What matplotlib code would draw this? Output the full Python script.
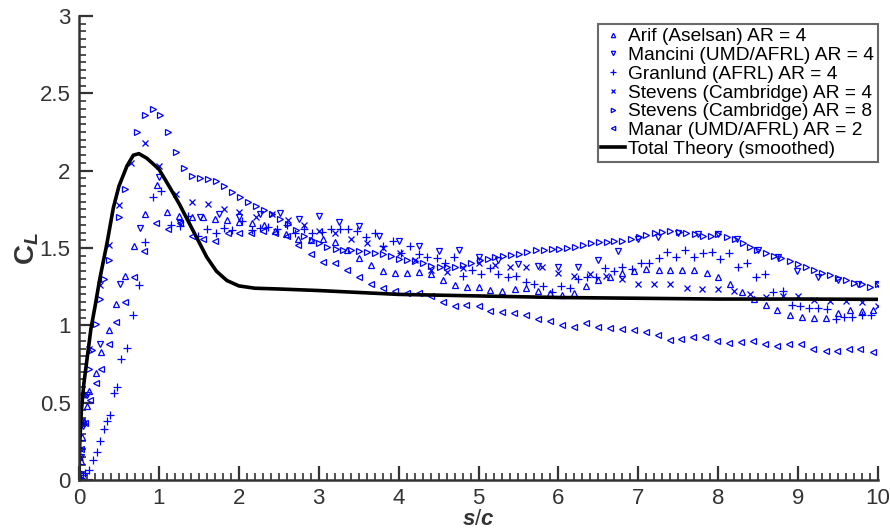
import matplotlib
matplotlib.use("Agg")
import matplotlib.pyplot as plt
from matplotlib.ticker import MultipleLocator

plt.rcParams['font.family'] = ['Liberation Sans', 'DejaVu Sans']
plt.rcParams['mathtext.fontset'] = 'custom'
plt.rcParams['mathtext.rm'] = 'Liberation Sans'
plt.rcParams['mathtext.it'] = 'Liberation Sans:italic:bold'
plt.rcParams['mathtext.bf'] = 'Liberation Sans:bold'

# ---- experimental data (s/c, C_L) ----
arif_x = [0.0, 0.02, 0.04, 0.06, 0.096, 0.12, 0.21, 0.28, 0.38, 0.46, 0.575, 0.69, 0.83, 0.97,
          1.105, 1.25, 1.41, 1.556, 1.70, 1.85, 2.0, 2.16, 2.31, 2.45, 2.59, 2.74, 2.90, 3.05,
          3.20, 3.35, 3.50, 3.65, 3.81, 3.95, 4.10, 4.26, 4.41, 4.55, 4.71, 4.85, 5.01, 5.15,
          5.30, 5.46, 5.60, 5.75, 5.90, 6.05, 6.20, 6.35, 6.50, 6.65, 6.80, 6.95, 7.10, 7.26,
          7.40, 7.55, 7.70, 7.86, 8.0, 8.15, 8.30, 8.45, 8.60, 8.74, 8.90, 9.05, 9.20, 9.35,
          9.50, 9.65, 9.80, 9.94]
arif_y = [0.0, 0.12, 0.28, 0.38, 0.478, 0.577, 0.694, 0.825, 0.97, 1.14, 1.32, 1.51, 1.72, 1.91,
          1.73, 1.71, 1.70, 1.70, 1.685, 1.68, 1.67, 1.66, 1.65, 1.61, 1.59, 1.56, 1.55, 1.556,
          1.54, 1.49, 1.433, 1.39, 1.353, 1.34, 1.34, 1.346, 1.33, 1.29, 1.26, 1.25, 1.246, 1.228,
          1.222, 1.235, 1.24, 1.224, 1.21, 1.196, 1.21, 1.254, 1.29, 1.31, 1.34, 1.353, 1.364, 1.357,
          1.357, 1.36, 1.357, 1.34, 1.314, 1.27, 1.213, 1.17, 1.13, 1.10, 1.067, 1.056, 1.05, 1.05,
          1.08, 1.10, 1.094, 1.10]

mancini_x = [0.0, 0.02, 0.05, 0.10, 0.26, 0.51, 0.76, 1.0, 1.26, 1.51, 1.75, 2.0, 2.26, 2.52,
             2.75, 3.0, 3.25, 3.50, 3.75, 4.0, 4.26, 4.51, 4.76, 5.01, 5.25, 5.50, 5.75, 6.0,
             6.25, 6.5, 6.75, 7.0, 7.25, 7.50, 7.75, 8.0, 8.24, 8.50, 8.75, 8.99, 9.25, 9.50,
             9.75, 10.0]
mancini_y = [0.0, 0.15, 0.35, 0.55, 0.88, 1.27, 1.63, 1.96, 1.66, 1.70, 1.72, 1.70, 1.72, 1.724,
             1.69, 1.71, 1.666, 1.64, 1.577, 1.545, 1.513, 1.48, 1.49, 1.44, 1.42, 1.394, 1.383, 1.38,
             1.38, 1.42, 1.48, 1.56, 1.573, 1.60, 1.59, 1.59, 1.56, 1.487, 1.44, 1.353, 1.31, 1.293,
             1.267, 1.267]

granlund_x = [0.0, 0.02, 0.05, 0.08, 0.12, 0.18, 0.22, 0.26, 0.31, 0.35, 0.39, 0.44, 0.48, 0.53,
              0.60, 0.67, 0.75, 0.83, 0.93, 1.03, 1.15, 1.26, 1.37, 1.49, 1.60, 1.71, 1.81, 1.92,
              2.04, 2.16, 2.27, 2.37, 2.48, 2.60, 2.70, 2.81, 2.92, 3.04, 3.15, 3.27, 3.37, 3.48,
              3.59, 3.70, 3.81, 3.93, 4.03, 4.14, 4.25, 4.36, 4.48, 4.58, 4.69, 4.81, 4.92, 5.03,
              5.14, 5.25, 5.37, 5.47, 5.59, 5.70, 5.81, 5.92, 6.03, 6.15, 6.25, 6.36, 6.47, 6.58,
              6.69, 6.80, 6.92, 7.04, 7.14, 7.26, 7.36, 7.47, 7.58, 7.70, 7.81, 7.92, 8.02, 8.14,
              8.25, 8.36, 8.47, 8.58, 8.69, 8.81, 8.92, 9.03, 9.14, 9.25, 9.36, 9.47, 9.58, 9.68,
              9.80, 9.91]
granlund_y = [0.0, 0.01, 0.03, 0.045, 0.065, 0.13, 0.18, 0.25, 0.33, 0.38, 0.42, 0.56, 0.60, 0.78,
              0.855, 1.07, 1.26, 1.54, 1.83, 1.87, 1.65, 1.64, 1.71, 1.58, 1.62, 1.595, 1.63, 1.616,
              1.676, 1.616, 1.627, 1.633, 1.622, 1.65, 1.60, 1.62, 1.60, 1.605, 1.62, 1.62, 1.62, 1.61,
              1.57, 1.60, 1.513, 1.545, 1.47, 1.515, 1.46, 1.444, 1.437, 1.40, 1.444, 1.32, 1.36, 1.33,
              1.37, 1.33, 1.314, 1.32, 1.28, 1.27, 1.254, 1.217, 1.254, 1.24, 1.30, 1.31, 1.31, 1.37,
              1.353, 1.38, 1.364, 1.405, 1.405, 1.433, 1.476, 1.444, 1.49, 1.44, 1.47, 1.472, 1.427, 1.465,
              1.375, 1.40, 1.314, 1.33, 1.217, 1.222, 1.13, 1.125, 1.11, 1.11, 1.105, 1.04, 1.056, 1.056,
              1.067, 1.067]

stevens4_x = [0.0, 0.01, 0.02, 0.05, 0.13, 0.26, 0.375, 0.50, 0.65, 0.82, 1.0, 1.21, 1.41, 1.61,
              1.81, 2.0, 2.21, 2.41, 2.61, 2.81, 3.01, 3.20, 3.40, 3.60, 3.81, 4.02, 4.21, 4.41,
              4.60, 4.80, 5.01, 5.21, 5.39, 5.60, 5.80, 6.0, 6.2, 6.40, 6.60, 6.80, 7.0, 7.20,
              7.40, 7.61, 7.80, 8.0, 8.20, 8.40, 8.60, 8.81, 9.0, 9.2, 9.40, 9.60, 9.80, 10.0]
stevens4_y = [0.0, 0.15, 0.37, 0.55, 0.85, 1.26, 1.52, 1.78, 2.05, 2.18, 2.03, 1.85, 1.80, 1.785,
              1.755, 1.735, 1.70, 1.72, 1.68, 1.65, 1.61, 1.595, 1.56, 1.535, 1.50, 1.465, 1.42, 1.357,
              1.346, 1.37, 1.40, 1.39, 1.375, 1.38, 1.375, 1.336, 1.32, 1.33, 1.32, 1.297, 1.267, 1.265,
              1.265, 1.24, 1.235, 1.235, 1.22, 1.20, 1.185, 1.19, 1.19, 1.163, 1.16, 1.16, 1.15, 1.125]

stevens8_x = [0.0, 0.01, 0.03, 0.05, 0.08, 0.12, 0.16, 0.21, 0.26, 0.31, 0.375, 0.50, 0.58, 0.73,
              0.83, 0.92, 1.02, 1.12, 1.21, 1.32, 1.42, 1.51, 1.62, 1.71, 1.81, 1.91, 2.01, 2.12,
              2.22, 2.31, 2.41, 2.52, 2.62, 2.72, 2.81, 2.91, 3.01, 3.11, 3.22, 3.31, 3.41, 3.51,
              3.61, 3.71, 3.81, 3.91, 4.01, 4.11, 4.21, 4.31, 4.41, 4.52, 4.61, 4.71, 4.81, 4.91,
              5.02, 5.12, 5.21, 5.31, 5.41, 5.51, 5.61, 5.72, 5.82, 5.92, 6.01, 6.11, 6.21, 6.31,
              6.41, 6.51, 6.61, 6.70, 6.80, 6.91, 7.01, 7.10, 7.21, 7.30, 7.40, 7.51, 7.60, 7.71,
              7.81, 7.91, 8.0, 8.11, 8.21, 8.31, 8.40, 8.49, 8.60, 8.70, 8.79, 8.90, 9.0, 9.10,
              9.20, 9.30, 9.40, 9.50, 9.60, 9.70, 9.80, 9.90, 10.0]
stevens8_y = [0.0, 0.05, 0.2, 0.38, 0.55, 0.72, 0.84, 1.01, 1.17, 1.30, 1.42, 1.70, 1.88, 2.25,
              2.36, 2.40, 2.36, 2.25, 2.12, 2.02, 1.965, 1.95, 1.945, 1.93, 1.90, 1.86, 1.83, 1.795,
              1.77, 1.745, 1.72, 1.685, 1.655, 1.616, 1.58, 1.55, 1.53, 1.506, 1.495, 1.49, 1.49, 1.48,
              1.476, 1.47, 1.46, 1.45, 1.43, 1.425, 1.415, 1.40, 1.385, 1.38, 1.375, 1.38, 1.39, 1.405,
              1.42, 1.43, 1.44, 1.448, 1.455, 1.46, 1.474, 1.487, 1.49, 1.493, 1.495, 1.50, 1.508, 1.52,
              1.53, 1.536, 1.54, 1.545, 1.547, 1.556, 1.573, 1.584, 1.60, 1.605, 1.61, 1.603, 1.60, 1.59,
              1.58, 1.58, 1.59, 1.57, 1.556, 1.53, 1.505, 1.49, 1.465, 1.448, 1.433, 1.418, 1.396, 1.38,
              1.36, 1.34, 1.323, 1.304, 1.29, 1.275, 1.265, 1.25, 1.265]

manar_x = [0.0, 0.03, 0.08, 0.14, 0.21, 0.28, 0.37, 0.46, 0.575, 0.69, 0.81, 0.96, 1.11, 1.26,
           1.41, 1.55, 1.70, 1.87, 2.0, 2.15, 2.30, 2.45, 2.60, 2.74, 2.90, 3.05, 3.20, 3.35,
           3.50, 3.65, 3.80, 3.95, 4.10, 4.26, 4.41, 4.55, 4.70, 4.84, 5.0, 5.14, 5.29, 5.44,
           5.59, 5.75, 5.89, 6.04, 6.2, 6.35, 6.5, 6.65, 6.79, 6.95, 7.10, 7.25, 7.40, 7.54,
           7.69, 7.84, 7.99, 8.14, 8.29, 8.44, 8.59, 8.74, 8.89, 9.04, 9.19, 9.35, 9.49, 9.64,
           9.78, 9.94]
manar_y = [0.0, 0.2, 0.37, 0.52, 0.63, 0.72, 0.88, 1.02, 1.15, 1.31, 1.48, 1.66, 1.62, 1.66,
           1.58, 1.556, 1.547, 1.595, 1.60, 1.60, 1.61, 1.60, 1.58, 1.52, 1.46, 1.41, 1.40, 1.357,
           1.31, 1.267, 1.24, 1.224, 1.212, 1.21, 1.188, 1.15, 1.125, 1.13, 1.125, 1.095, 1.084, 1.077,
           1.067, 1.04, 1.03, 1.0, 0.987, 1.017, 0.99, 0.985, 0.976, 0.97, 0.96, 0.937, 0.905, 0.91,
           0.926, 0.926, 0.90, 0.887, 0.894, 0.90, 0.877, 0.866, 0.877, 0.877, 0.847, 0.834, 0.834, 0.85,
           0.85, 0.825]

# ---- smoothed total theory ----
theory_x = [0.0, 0.01, 0.03, 0.06, 0.10, 0.15, 0.20, 0.26, 0.35, 0.43, 0.50, 0.60, 0.68, 0.75,
            0.85, 1.0, 1.15, 1.26, 1.40, 1.50, 1.60, 1.72, 1.85, 2.0, 2.2, 2.5, 3.0, 4.0,
            5.0, 6.0, 7.0, 8.0, 9.0, 10.0]
theory_y = [0.0, 0.25, 0.45, 0.62, 0.78, 0.98, 1.12, 1.30, 1.53, 1.76, 1.90, 2.03, 2.10, 2.11,
            2.08, 2.01, 1.88, 1.78, 1.64, 1.54, 1.44, 1.35, 1.29, 1.255, 1.24, 1.235, 1.225, 1.20,
            1.19, 1.18, 1.175, 1.17, 1.17, 1.168]

series = [
    (arif_x, arif_y, '^', 'Arif (Aselsan) AR = 4'),
    (mancini_x, mancini_y, 'v', 'Mancini (UMD/AFRL) AR = 4'),
    (granlund_x, granlund_y, '+', 'Granlund (AFRL) AR = 4'),
    (stevens4_x, stevens4_y, 'x', 'Stevens (Cambridge) AR = 4'),
    (stevens8_x, stevens8_y, '>', 'Stevens (Cambridge) AR = 8'),
    (manar_x, manar_y, '<', 'Manar (UMD/AFRL) AR = 2'),
]

fig = plt.figure(figsize=(8.9, 5.29), dpi=100)
ax = fig.add_axes([79 / 890, 1 - 480 / 529, 799 / 890, 464 / 529])

for xs, ys, m, lab in series:
    size = {'+': 5.5, 'x': 4.3}.get(m, 4.2)
    ax.plot(xs, ys, linestyle='none', marker=m, markersize=size,
            markerfacecolor='none', markeredgecolor='#0000ff',
            markeredgewidth=0.9, label=lab)

ax.plot(theory_x, theory_y, color='black', linewidth=2.6, label='Total Theory (smoothed)')

ax.set_xlim(0, 10)
ax.set_ylim(0, 3)
ax.xaxis.set_major_locator(MultipleLocator(1))
ax.xaxis.set_minor_locator(MultipleLocator(0.1))
ax.yaxis.set_major_locator(MultipleLocator(0.5))
ax.yaxis.set_minor_locator(MultipleLocator(0.05))
ax.yaxis.set_major_formatter(plt.FuncFormatter(lambda v, p: f'{v:g}'))

for s in ('top', 'right'):
    ax.spines[s].set_visible(False)
for s in ('left', 'bottom'):
    ax.spines[s].set_color('#333333')
    ax.spines[s].set_linewidth(1.8)

ax.tick_params(which='major', direction='in', length=10, width=1.6, color='#333333',
               labelsize=16, labelcolor='#333333', pad=6)
ax.tick_params(which='minor', direction='in', length=5, width=1.2, color='#333333')

ax.set_xlabel(r'$s/c$', fontsize=16, color='#333333')
ax.xaxis.set_label_coords(0.5, -0.062)
ax.set_ylabel(r'$\mathbf{C}_{L}$', fontsize=20, color='#333333', labelpad=-1)

leg = ax.legend(loc='upper right', bbox_to_anchor=(1.0, 1 - 8 / 464), borderaxespad=0,
                fontsize=13.8, frameon=True, fancybox=False, handlelength=1.25,
                handletextpad=0.15, labelspacing=0.07, borderpad=0.2, markerscale=0.75)
leg.get_frame().set_edgecolor('#444444')
leg.get_frame().set_linewidth(1.5)

fig.savefig('out.png', dpi=100)
